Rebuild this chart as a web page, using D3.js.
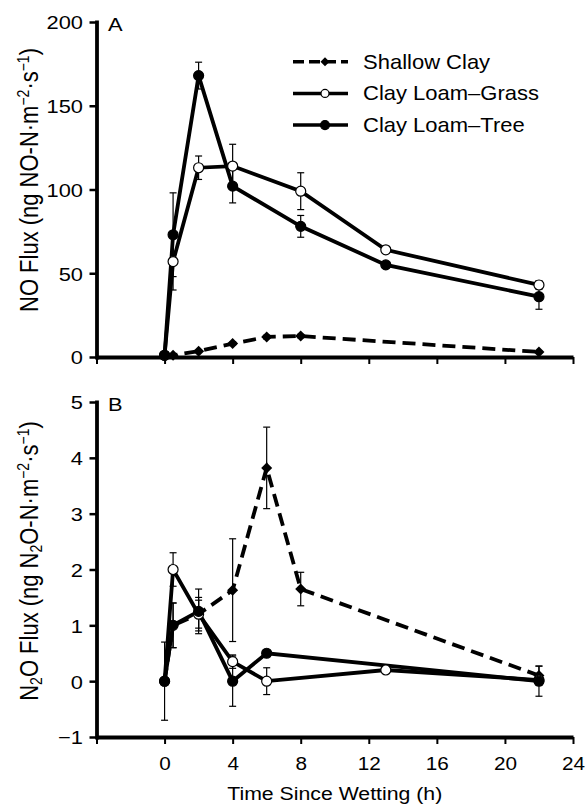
<!DOCTYPE html>
<html>
<head>
<meta charset="utf-8">
<script src="https://cdn.jsdelivr.net/npm/d3@7"></script>
<style>
  body { margin: 0; background: #fff; }
  text { font-family: "Liberation Sans", Arial, sans-serif; fill: #000; }
</style>
</head>
<body>
<svg id="chart" width="585" height="807"></svg>
<script>
// ---- data ----
var hourTicks = [-4, 0, 4, 8, 12, 16, 20, 24];
var seriesNames = ["Shallow Clay", "Clay Loam\u2013Grass", "Clay Loam\u2013Tree"];

// panel A, NO flux
var noShallowHours = [0, 0.5, 2, 4, 6, 8, 22];
var noShallowFlux  = [1, 1, 3.5, 8, 12, 12.5, 3];
var noShallowErr   = [0, 0, 0, 0.8, 1, 1, 0.5];
var noGrassHours = [0, 0.5, 2, 4, 8, 13, 22];
var noGrassFlux  = [1, 57, 113, 114, 99, 64, 43];
var noGrassErr   = [0, 17, 7, 13, 11, 1.5, 2.5];
var noTreeHours = [0, 0.5, 2, 4, 8, 13, 22];
var noTreeFlux  = [1, 73, 168, 102, 78, 55, 36];
var noTreeErr   = [0, 25, 8, 10, 6.5, 1.5, 7.5];

// panel B, N2O flux
var n2oShallowHours = [0, 0.5, 2, 4, 6, 8, 22];
var n2oShallowFlux  = [0, 1.0, 1.2, 1.63, 3.82, 1.65, 0.1];
var n2oShallowErr   = [0, 0.4, 0.3, 0.92, 0.73, 0.3, 0.17];
var n2oGrassHours = [0, 0.5, 2, 4, 6, 13, 22];
var n2oGrassFlux  = [0, 2.0, 1.2, 0.35, 0, 0.2, 0.02];
var n2oGrassErr   = [0, 0.3, 0.25, 0.12, 0.24, 0, 0.05];
var n2oTreeHours = [0, 0.5, 2, 4, 6, 22];
var n2oTreeFlux  = [0, 1.0, 1.25, 0, 0.5, 0];
var n2oTreeErr   = [0.7, 0.4, 0.4, 0.45, 0, 0.27];

var stretch = 1.15;   // the scanned type is a bit wide
var svg = d3.select("#chart");

var x = d3.scaleLinear().domain([-4, 24]).range([96.5, 573]);

function zip(h, v, e) {
    return h.map(function(d, i) { return {h: d, v: v[i], e: e[i]}; });
}

function diamond(g, cx, cy, r) {
    g.append("path")
        .attr("d", "M" + cx + "," + (cy - r) + "L" + (cx + r) + "," + cy +
                   "L" + cx + "," + (cy + r) + "L" + (cx - r) + "," + cy + "Z")
        .attr("fill", "#000");
}

function marker(g, kind, cx, cy, big) {
    if (kind == "diamond") {
        diamond(g, cx, cy, big ? 5.5 : 4.5);
    } else {
        g.append("circle")
            .attr("cx", cx).attr("cy", cy)
            .attr("r", big ? 5 : (kind == "open" ? 4 : 4.5))
            .attr("fill", kind == "open" ? "#fff" : "#000")
            .attr("stroke", "#000")
            .attr("stroke-width", 1.2);
    }
}

function panel(cfg) {
    var y = d3.scaleLinear().domain(cfg.domain).range([cfg.bottom, cfg.top]);
    var g = svg.append("g");

    // x axis along the lowest y value
    var xa = g.append("g")
        .attr("transform", "translate(0," + cfg.bottom + ")")
        .call(d3.axisBottom(x).tickValues(hourTicks).tickSize(7).tickSizeOuter(0)
              .tickFormat(function(d) { return (cfg.showX && d >= 0) ? d : ""; }));
    xa.select(".domain").attr("stroke-width", 3.8);
    xa.selectAll(".tick line").attr("stroke-width", 2);
    xa.selectAll(".tick text")
        .attr("y", 20).attr("dy", "0.71em")
        .attr("font-size", 18.5).attr("font-family", null)
        .attr("transform", "scale(1.12,1)");

    var ya = g.append("g")
        .attr("transform", "translate(" + x(-4) + ",0)")
        .call(d3.axisLeft(y).tickValues(cfg.ticks).tickSize(7).tickSizeOuter(0)
              .tickFormat(d3.format("d")));
    ya.select(".domain").attr("stroke-width", 3.8).attr("stroke-linecap", "square");
    ya.selectAll(".tick line").attr("stroke-width", 2.5);
    ya.selectAll(".tick text")
        .attr("x", -13.5 / stretch).attr("dy", "0.36em")
        .attr("font-size", 19).attr("font-family", null)
        .attr("transform", "scale(" + stretch + ",1)");

    // panel letter
    g.append("text")
        .attr("transform", "translate(108," + (cfg.top + 9) + ") scale(" + stretch + ",1)")
        .attr("font-size", 19)
        .text(cfg.letter);

    var line = d3.line().x(function(d) { return x(d.h); }).y(function(d) { return y(d.v); });

    cfg.series.forEach(function(s) {
        g.append("path")
            .datum(s.pts)
            .attr("d", line)
            .attr("fill", "none")
            .attr("stroke", "#000")
            .attr("stroke-width", 3.8)
            .attr("stroke-dasharray", s.dash ? "13,7" : null);
    });

    cfg.series.forEach(function(s) {
        var eb = g.append("g").attr("stroke", "#000").attr("stroke-width", 1.2);
        s.pts.filter(function(d) { return d.e > 0; }).forEach(function(d) {
            var cx = x(d.h), y1 = y(d.v + d.e), y2 = y(d.v - d.e);
            eb.append("line").attr("x1", cx).attr("x2", cx).attr("y1", y1).attr("y2", y2);
            eb.append("line").attr("x1", cx - 3.5).attr("x2", cx + 3.5).attr("y1", y1).attr("y2", y1);
            eb.append("line").attr("x1", cx - 3.5).attr("x2", cx + 3.5).attr("y1", y2).attr("y2", y2);
        });
    });

    cfg.series.forEach(function(s) {
        s.pts.forEach(function(d) { marker(g, s.kind, x(d.h), y(d.v), true); });
    });

    // y title
    var t = g.append("text")
        .attr("transform", "translate(38," + cfg.titleY + ") scale(" + stretch + ",1) rotate(-90)")
        .attr("text-anchor", "middle")
        .attr("font-size", 22);
    cfg.title.forEach(function(p) {
        var ts = t.append("tspan").text(p[0]);
        if (p[1] == "sup") ts.attr("font-size", 14).attr("baseline-shift", "55%");
        if (p[1] == "sub") ts.attr("font-size", 14).attr("baseline-shift", "-25%");
    });
    return y;
}

var kinds = ["diamond", "open", "filled"];

panel({
    domain: [0, 200], ticks: [0, 50, 100, 150, 200], top: 22, bottom: 357,
    letter: "A", showX: false, titleY: 180,
    title: [["NO Flux (ng NO-N\u00b7m"], ["\u22122", "sup"], ["\u00b7s"], ["\u22121", "sup"], [")"]],
    series: [
        {kind: "diamond", dash: true, pts: zip(noShallowHours, noShallowFlux, noShallowErr)},
        {kind: "open", dash: false, pts: zip(noGrassHours, noGrassFlux, noGrassErr)},
        {kind: "filled", dash: false, pts: zip(noTreeHours, noTreeFlux, noTreeErr)}
    ]
});

panel({
    domain: [-1, 5], ticks: [-1, 0, 1, 2, 3, 4, 5], top: 402, bottom: 737,
    letter: "B", showX: true, titleY: 561,
    title: [["N"], ["2", "sub"], ["O Flux (ng N"], ["2", "sub"], ["O-N\u00b7m"], ["\u22122", "sup"],
            ["\u00b7s"], ["\u22121", "sup"], [")"]],
    series: [
        {kind: "diamond", dash: true, pts: zip(n2oShallowHours, n2oShallowFlux, n2oShallowErr)},
        {kind: "open", dash: false, pts: zip(n2oGrassHours, n2oGrassFlux, n2oGrassErr)},
        {kind: "filled", dash: false, pts: zip(n2oTreeHours, n2oTreeFlux, n2oTreeErr)}
    ]
});

// x title
svg.append("text")
    .attr("transform", "translate(" + x(10) + ",800) scale(" + stretch + ",1)")
    .attr("text-anchor", "middle")
    .attr("font-size", 18.5)
    .text("Time Since Wetting (h)");

// legend
var legend = svg.append("g");
seriesNames.forEach(function(name, i) {
    var ly = 61.7 + i * 31.7;
    legend.append("line")
        .attr("x1", 293).attr("x2", 348).attr("y1", ly).attr("y2", ly)
        .attr("stroke", "#000").attr("stroke-width", 3.5)
        .attr("stroke-dasharray", i == 0 ? "11,5" : null);
    marker(legend, kinds[i], 325, ly, false);
    legend.append("text")
        .attr("transform", "translate(363," + (ly + 7) + ") scale(1.1,1)")
        .attr("font-size", 20)
        .text(name);
});
</script>
</body>
</html>
